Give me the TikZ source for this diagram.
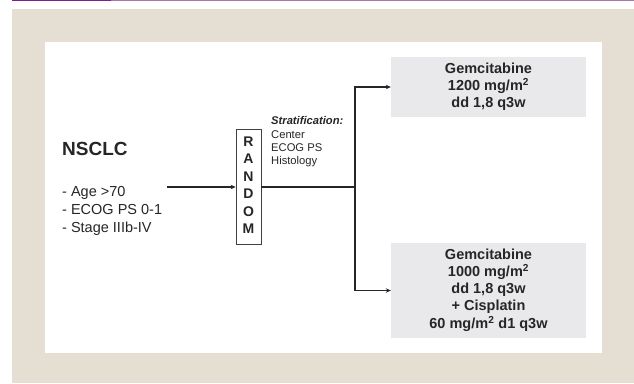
\documentclass[tikz,border=0pt]{standalone}
\usepackage{fontspec}
\setmainfont{Liberation Sans}
\usetikzlibrary{arrows.meta,positioning}

\definecolor{beige}{HTML}{E5DFD3}
\definecolor{boxgray}{HTML}{E9E9EB}
\definecolor{ink}{HTML}{262626}
\definecolor{purpledark}{HTML}{7E1F8A}
\definecolor{purplelight}{HTML}{A676B5}

\newcommand{\lines}[2]{\begin{tabular}{@{}#1@{}}#2\end{tabular}}

\tikzset{
	arm/.style={fill=boxgray, text=ink, minimum width=195pt, inner sep=0pt, font=\bfseries\fontsize{14.5}{17}\selectfont},
	link/.style={line width=1.2pt, draw=ink, -{Stealth[length=5pt,width=4.5pt]}},
	wire/.style={line width=1.2pt, draw=ink},
}

\begin{document}
\begin{tikzpicture}[x=1pt, y=-1pt]
		%%%%% START %%%%%
		
		\useasboundingbox (0, 0) rectangle (634, 383);
		
		\fill[beige] (12, 9) rectangle (634, 383);
		\fill[white] (45, 42) rectangle (602, 353);
		\draw[purpledark, line width=1.2pt] (12, 0.6) -- (111, 0.6);
		\draw[purplelight, line width=1.2pt] (111, 0.6) -- (634, 0.6);
		
		\node[anchor=west, text=ink, font=\bfseries\fontsize{19}{22}\selectfont, inner sep=0pt] (nsclc) at (62, 149) {NSCLC};
		\node[anchor=west, text=ink, font=\fontsize{14.5}{18}\selectfont, inner sep=0pt] (criteria) at (62, 211) {\lines{l}{- Age >70\\- ECOG PS 0-1\\- Stage IIIb-IV}};
		
		\node[draw=black!75, fill=white, text=ink, line width=0.8pt, minimum width=25pt, minimum height=115pt, inner sep=0pt, font=\bfseries\fontsize{14}{17.4}\selectfont] (random) at (248.5, 186.5) {\lines{c}{R\\A\\N\\D\\O\\M}};
		
		\node[anchor=west, text=ink, font=\fontsize{11.2}{13.3}\selectfont, inner sep=0pt] (strata) at (271, 142) {\lines{l}{\textbf{\textit{Stratification:}}\\Center\\ECOG PS\\Histology}};
		
		\node[arm, minimum height=60pt] (armA) at (488.5, 87) {\lines{c}{Gemcitabine\\1200 mg/m\textsuperscript{2}\\dd 1,8 q3w}};
		\node[arm, minimum height=95pt] (armB) at (488.5, 290.5) {\lines{c}{Gemcitabine\\1000 mg/m\textsuperscript{2}\\dd 1,8 q3w\\+ Cisplatin\\60 mg/m\textsuperscript{2} d1 q3w}};
		
		\coordinate (entry) at (167, 187);
		\coordinate (split) at (355, 187);
		
		\draw[link] (entry) -- (entry -| random.west);
		\draw[wire] (split -| random.east) -- (split);
		\draw[link] (split) |- (armA.west);
		\draw[link] (split) |- (armB.west);
		
		%%%%% END %%%%%
	\end{tikzpicture}
\end{document}
